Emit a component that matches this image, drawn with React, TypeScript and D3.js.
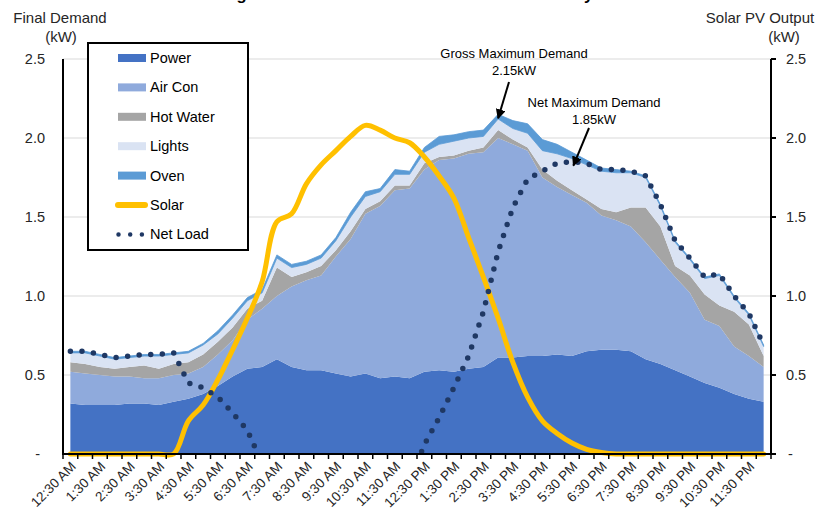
import React, { useEffect, useRef } from 'react';
import * as d3 from 'd3';

// half-hourly categories, labels shown on the :30 slots
const times = [
  '12:30 AM', '1:00 AM', '1:30 AM', '2:00 AM', '2:30 AM', '3:00 AM', '3:30 AM', '4:00 AM',
  '4:30 AM', '5:00 AM', '5:30 AM', '6:00 AM', '6:30 AM', '7:00 AM', '7:30 AM', '8:00 AM',
  '8:30 AM', '9:00 AM', '9:30 AM', '10:00 AM', '10:30 AM', '11:00 AM', '11:30 AM', '12:00 PM',
  '12:30 PM', '1:00 PM', '1:30 PM', '2:00 PM', '2:30 PM', '3:00 PM', '3:30 PM', '4:00 PM',
  '4:30 PM', '5:00 PM', '5:30 PM', '6:00 PM', '6:30 PM', '7:00 PM', '7:30 PM', '8:00 PM',
  '8:30 PM', '9:00 PM', '9:30 PM', '10:00 PM', '10:30 PM', '11:00 PM', '11:30 PM', '12:00 AM',
];

const power = [
  0.32, 0.31, 0.31, 0.31, 0.32, 0.32, 0.31, 0.33, 0.35, 0.38, 0.43, 0.49,
  0.54, 0.55, 0.60, 0.55, 0.53, 0.53, 0.51, 0.49, 0.51, 0.48, 0.49, 0.48,
  0.52, 0.53, 0.52, 0.54, 0.55, 0.61, 0.61, 0.62, 0.62, 0.63, 0.62, 0.65,
  0.66, 0.66, 0.65, 0.60, 0.57, 0.53, 0.49, 0.45, 0.42, 0.38, 0.35, 0.33,
];
const airCon = [
  0.20, 0.20, 0.19, 0.18, 0.17, 0.16, 0.17, 0.17, 0.16, 0.17, 0.20, 0.23,
  0.31, 0.37, 0.40, 0.51, 0.57, 0.60, 0.74, 0.87, 1.01, 1.09, 1.18, 1.20,
  1.28, 1.33, 1.35, 1.36, 1.36, 1.39, 1.35, 1.30, 1.13, 1.06, 1.02, 0.94,
  0.85, 0.82, 0.79, 0.74, 0.66, 0.59, 0.53, 0.40, 0.39, 0.30, 0.27, 0.22,
];
const hotWater = [
  0.06, 0.06, 0.05, 0.05, 0.06, 0.08, 0.06, 0.07, 0.07, 0.08, 0.08, 0.08,
  0.07, 0.05, 0.18, 0.06, 0.05, 0.06, 0.04, 0.05, 0.03, 0.03, 0.03, 0.02,
  0.04, 0.02, 0.02, 0.02, 0.03, 0.05, 0.03, 0.02, 0.05, 0.04, 0.03, 0.02,
  0.04, 0.05, 0.12, 0.22, 0.21, 0.07, 0.11, 0.16, 0.13, 0.22, 0.20, 0.07,
];
const lights = [
  0.06, 0.07, 0.07, 0.06, 0.06, 0.06, 0.08, 0.06, 0.06, 0.06, 0.05, 0.06,
  0.05, 0.05, 0.06, 0.06, 0.05, 0.05, 0.06, 0.09, 0.08, 0.06, 0.07, 0.07,
  0.07, 0.08, 0.09, 0.08, 0.07, 0.07, 0.07, 0.09, 0.12, 0.17, 0.20, 0.22,
  0.24, 0.25, 0.22, 0.19, 0.13, 0.15, 0.10, 0.10, 0.19, 0.09, 0.06, 0.06,
];
const oven = [
  0.01, 0.01, 0.01, 0.01, 0.01, 0.01, 0.01, 0.01, 0.01, 0.01, 0.02, 0.02,
  0.02, 0.02, 0.02, 0.02, 0.02, 0.02, 0.02, 0.03, 0.03, 0.02, 0.03, 0.02,
  0.03, 0.05, 0.04, 0.04, 0.04, 0.03, 0.05, 0.06, 0.07, 0.06, 0.04, 0.03,
  0.02, 0.02, 0.01, 0.01, 0.01, 0.01, 0.01, 0.01, 0.01, 0.01, 0.01, 0.01,
];
const solar = [
  0, 0, 0, 0, 0, 0, 0, 0, 0.21, 0.31, 0.47, 0.66,
  0.86, 1.09, 1.47, 1.52, 1.71, 1.83, 1.92, 2.01, 2.08, 2.05, 2.00, 1.97,
  1.88, 1.76, 1.62, 1.37, 1.12, 0.86, 0.58, 0.36, 0.21, 0.13, 0.07, 0.03,
  0.01, 0, 0, 0, 0, 0, 0, 0, 0, 0, 0, 0,
];
const netLoad = [
  0.65, 0.65, 0.63, 0.61, 0.62, 0.63, 0.63, 0.64, 0.45, 0.42, 0.36, 0.26,
  0.15, -0.06, -0.21, -0.32, -0.49, -0.57, -0.55, -0.48, -0.42, -0.37, -0.20, -0.18,
  0.06, 0.23, 0.42, 0.62, 0.90, 1.28, 1.56, 1.74, 1.79, 1.84, 1.85, 1.84,
  1.80, 1.80, 1.79, 1.76, 1.58, 1.35, 1.24, 1.12, 1.14, 1.00, 0.89, 0.69,
];

const yTicks = [0, 0.5, 1.0, 1.5, 2.0, 2.5];
const keys = ['Power', 'Air Con', 'Hot Water', 'Lights', 'Oven'];
const colors: Record<string, string> = {
  'Power': '#4472C4',
  'Air Con': '#8FAADC',
  'Hot Water': '#A5A5A5',
  'Lights': '#DAE3F3',
  'Oven': '#5B9BD5',
};
const solarColor = '#FFC000';
const netColor = '#1F3864';
const font = '"Liberation Sans", Arial, sans-serif';

export default function App() {
  const ref = useRef<SVGSVGElement>(null);

  useEffect(() => {
    const svg = d3.select(ref.current);
    svg.selectAll('*').remove();

    const left = 63, right = 771, top = 59, bottom = 454;

    const x = d3.scaleBand<string>().domain(times).range([left, right]).padding(0);
    const cx = (i: number) => (x(times[i]) as number) + x.bandwidth() / 2;
    const y = d3.scaleLinear().domain([0, 2.5]).range([bottom, top]);

    const rows = times.map((t, i) => ({
      time: t,
      'Power': power[i],
      'Air Con': airCon[i],
      'Hot Water': hotWater[i],
      'Lights': lights[i],
      'Oven': oven[i],
    }));
    const stacked = d3.stack<any>().keys(keys)(rows);

    // title (sits mostly above the frame)
    svg.append('text')
      .attr('x', 191).attr('y', 0)
      .attr('font-family', font).attr('font-weight', 'bold').attr('font-size', 16.6)
      .attr('fill', '#000')
      .text('Average Household Demand on a Hot Summer Day');

    // gridlines
    svg.append('g').selectAll('line')
      .data(yTicks.filter(d => d > 0))
      .enter().append('line')
      .attr('x1', left).attr('x2', right)
      .attr('y1', d => y(d)).attr('y2', d => y(d))
      .attr('stroke', '#D9D9D9').attr('stroke-width', 1);

    // stacked areas
    const area = d3.area<any>()
      .x((d, i) => cx(i))
      .y0(d => y(d[0]))
      .y1(d => y(d[1]));
    svg.append('g').selectAll('path')
      .data(stacked)
      .enter().append('path')
      .attr('d', area)
      .attr('fill', d => colors[d.key])
      .attr('stroke', d => d.key === 'Oven' ? colors[d.key] : 'none')
      .attr('stroke-width', 0.8);

    // clip for lines
    svg.append('clipPath').attr('id', 'plotclip')
      .append('rect').attr('x', left).attr('y', top - 10).attr('width', right - left).attr('height', bottom - top + 10);

    // solar
    const solarLine = d3.line<number>()
      .x((d, i) => cx(i))
      .y(d => y(d))
      .curve(d3.curveCatmullRom.alpha(0.5));
    svg.append('path')
      .attr('d', solarLine(solar))
      .attr('fill', 'none')
      .attr('stroke', solarColor)
      .attr('stroke-width', 5)
      .attr('stroke-linejoin', 'round')
      .attr('stroke-linecap', 'round');

    // net load (dotted)
    const netLine = d3.line<number>().x((d, i) => cx(i)).y(d => y(d));
    svg.append('path')
      .attr('clip-path', 'url(#plotclip)')
      .attr('d', netLine(netLoad))
      .attr('fill', 'none')
      .attr('stroke', netColor)
      .attr('stroke-width', 5.5)
      .attr('stroke-linecap', 'round')
      .attr('stroke-dasharray', '0 11.6');

    // axes lines
    const axisG = svg.append('g').attr('stroke', '#000');
    axisG.append('line').attr('x1', left).attr('x2', left).attr('y1', top).attr('y2', bottom).attr('stroke-width', 2);
    axisG.append('line').attr('x1', right).attr('x2', right).attr('y1', top).attr('y2', bottom).attr('stroke-width', 2);
    axisG.append('line').attr('x1', left - 1).attr('x2', right + 1).attr('y1', bottom).attr('y2', bottom).attr('stroke-width', 2);

    // right axis ticks
    axisG.selectAll('.rt')
      .data(yTicks)
      .enter().append('line')
      .attr('x1', right).attr('x2', right + 5)
      .attr('y1', d => y(d)).attr('y2', d => y(d))
      .attr('stroke-width', 2);

    // x ticks at category boundaries
    const bounds = times.map(t => x(t) as number).concat([right]);
    axisG.selectAll('.xt')
      .data(bounds)
      .enter().append('line')
      .attr('x1', d => d).attr('x2', d => d)
      .attr('y1', bottom).attr('y2', bottom + 5)
      .attr('stroke-width', 1.5);

    const fmt = (d: number) => (d === 0 ? '-' : d3.format('.1f')(d));

    // y labels left
    svg.append('g').selectAll('text')
      .data(yTicks)
      .enter().append('text')
      .attr('x', d => (d === 0 ? 40 : 45))
      .attr('y', d => y(d))
      .attr('dy', '0.35em')
      .attr('text-anchor', 'end')
      .attr('font-family', font).attr('font-size', 14.5).attr('fill', '#262626')
      .text(fmt);

    // y labels right
    svg.append('g').selectAll('text')
      .data(yTicks)
      .enter().append('text')
      .attr('x', d => (d === 0 ? 788 : 786))
      .attr('y', d => y(d))
      .attr('dy', '0.35em')
      .attr('text-anchor', 'start')
      .attr('font-family', font).attr('font-size', 14.5).attr('fill', '#262626')
      .text(fmt);

    // x labels
    svg.append('g').selectAll('text')
      .data(times.map((t, i) => ({ t, i })).filter(d => d.i % 2 === 0))
      .enter().append('text')
      .attr('transform', d => `translate(${cx(d.i) + 3},${bottom + 10}) rotate(-45)`)
      .attr('text-anchor', 'end')
      .attr('dy', '0.35em')
      .attr('font-family', font).attr('font-size', 13.5).attr('fill', '#262626')
      .text(d => d.t);

    // axis titles
    const titles = [
      { t: 'Final Demand', x: 60, y: 23 },
      { t: '(kW)', x: 61, y: 42 },
      { t: 'Solar PV Output', x: 760, y: 23 },
      { t: '(kW)', x: 784, y: 42 },
    ];
    svg.append('g').selectAll('text')
      .data(titles)
      .enter().append('text')
      .attr('x', d => d.x).attr('y', d => d.y)
      .attr('text-anchor', 'middle')
      .attr('font-family', font).attr('font-size', 15).attr('fill', '#262626')
      .text(d => d.t);

    // annotations
    const defs = svg.append('defs');
    defs.append('marker')
      .attr('id', 'arrow')
      .attr('viewBox', '0 0 10 10')
      .attr('refX', 9).attr('refY', 5)
      .attr('markerWidth', 5).attr('markerHeight', 5)
      .attr('orient', 'auto')
      .append('path').attr('d', 'M0,0 L10,5 L0,10 z').attr('fill', '#000');

    const notes = [
      { l1: 'Gross Maximum Demand', l2: '2.15kW', tx: 514, ty: 58, i: 29, v: 2.15, from: [509, 82] },
      { l1: 'Net Maximum Demand', l2: '1.85kW', tx: 594, ty: 107, i: 34, v: 1.85, from: [589, 128] },
    ];
    notes.forEach(n => {
      const g = svg.append('g').attr('font-family', font).attr('font-size', 13).attr('fill', '#000').attr('text-anchor', 'middle');
      g.append('text').attr('x', n.tx).attr('y', n.ty).text(n.l1);
      g.append('text').attr('x', n.tx).attr('y', n.ty + 17).text(n.l2);
      const tipX = n.i === 29 ? cx(n.i) : cx(n.i) + 1.5;
      svg.append('line')
        .attr('x1', n.from[0]).attr('y1', n.from[1])
        .attr('x2', tipX).attr('y2', y(n.v) + 4)
        .attr('stroke', '#000').attr('stroke-width', 2)
        .attr('marker-end', 'url(#arrow)');
    });

    // legend
    const lg = svg.append('g');
    lg.append('rect')
      .attr('x', 88).attr('y', 43).attr('width', 160).attr('height', 207)
      .attr('fill', '#fff').attr('stroke', '#000').attr('stroke-width', 2);
    const items = [...keys, 'Solar', 'Net Load'];
    const rowY = (i: number) => 58 + i * 29.4;
    items.forEach((k, i) => {
      const yy = rowY(i);
      if (k === 'Solar') {
        lg.append('line').attr('x1', 118).attr('x2', 145).attr('y1', yy).attr('y2', yy)
          .attr('stroke', solarColor).attr('stroke-width', 6).attr('stroke-linecap', 'round');
      } else if (k === 'Net Load') {
        lg.append('line').attr('x1', 118.5).attr('x2', 142).attr('y1', yy).attr('y2', yy)
          .attr('stroke', netColor).attr('stroke-width', 4.5).attr('stroke-linecap', 'round')
          .attr('stroke-dasharray', '0 11.7');
      } else {
        lg.append('rect').attr('x', 118).attr('y', yy - 4).attr('width', 28).attr('height', 8)
          .attr('fill', colors[k]);
      }
      lg.append('text')
        .attr('x', 150).attr('y', yy).attr('dy', '0.35em')
        .attr('font-family', font).attr('font-size', 14.5).attr('fill', '#000')
        .text(k);
    });
  }, []);

  return (
    <div style={{ position: 'absolute', left: 0, top: 0 }}>
      <svg ref={ref} width={816} height={513} style={{ display: 'block', background: '#fff' }} />
    </div>
  );
}
